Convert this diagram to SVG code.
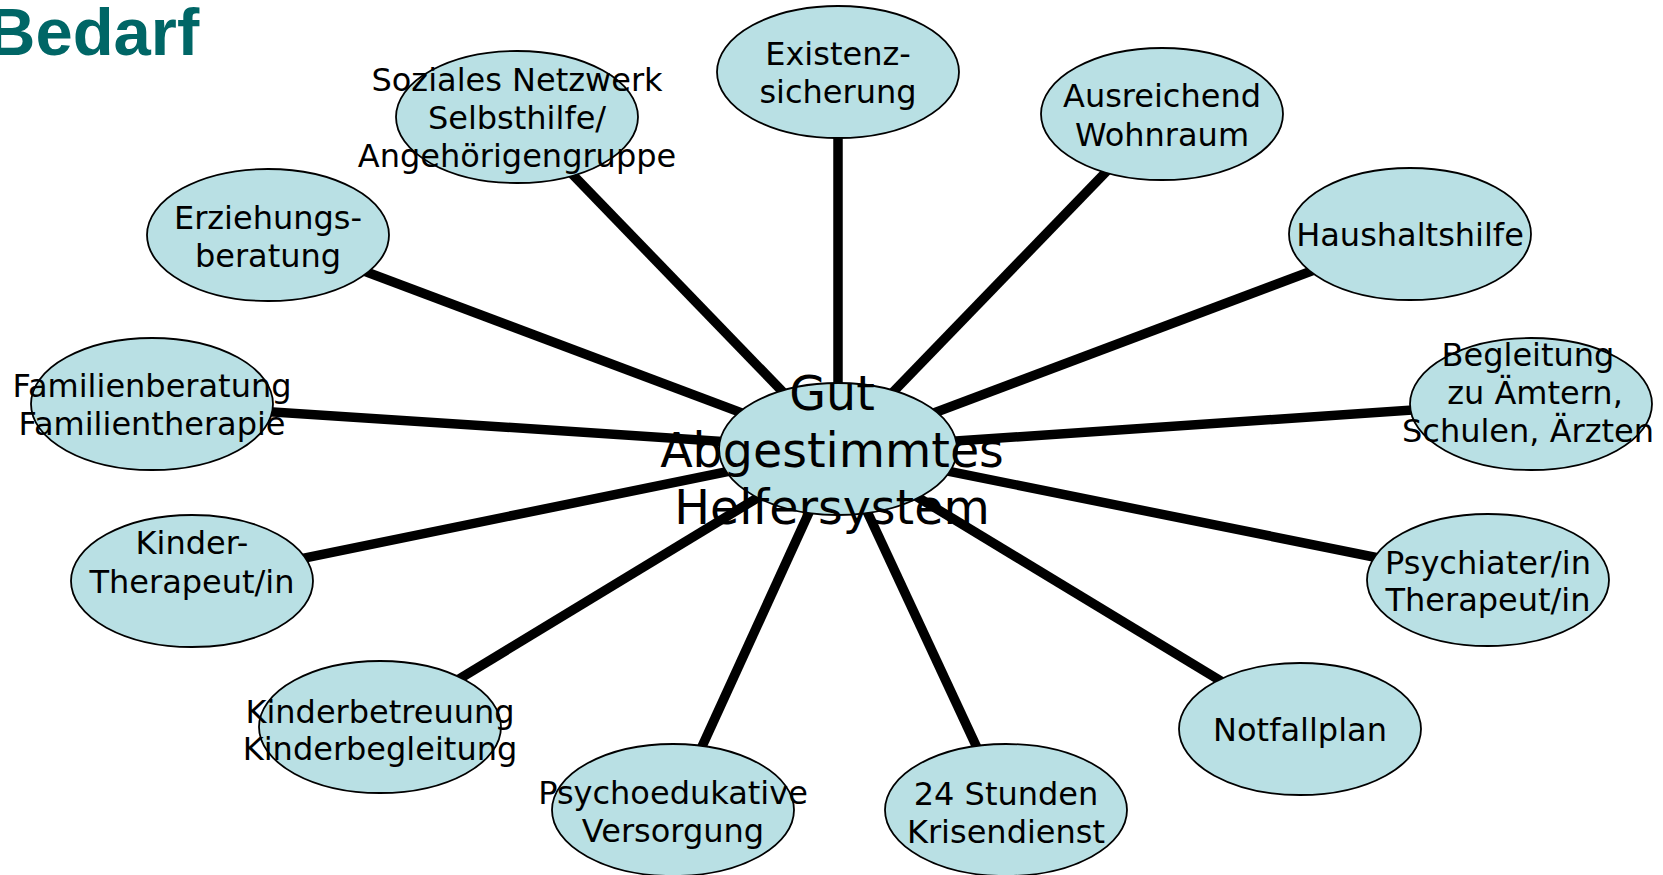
<svg xmlns="http://www.w3.org/2000/svg" width="1663" height="875" viewBox="0 0 1663 875">
<style>
.n ellipse{fill:#b9e0e4;stroke:#000;stroke-width:1.8}
.n text{font-family:"DejaVu Sans",Verdana,sans-serif;font-size:32px;fill:#000;text-anchor:middle}
#center text{font-size:47.5px}
#connectors line{stroke:#000;stroke-width:9.5}
</style>
<rect width="1663" height="875" fill="#fff"/>
<text x="-13" y="55" font-family="Liberation Sans, Arial, sans-serif" font-weight="bold" font-size="67" fill="#006666">Bedarf</text>
<g id="connectors">
<line x1="838" y1="449" x2="838" y2="72"/>
<line x1="838" y1="449" x2="517" y2="117"/>
<line x1="838" y1="449" x2="1162" y2="114"/>
<line x1="838" y1="449" x2="268" y2="235"/>
<line x1="838" y1="449" x2="1410" y2="234"/>
<line x1="838" y1="449" x2="152" y2="404"/>
<line x1="838" y1="449" x2="1531" y2="402"/>
<line x1="838" y1="449" x2="192" y2="581"/>
<line x1="838" y1="449" x2="1488" y2="580"/>
<line x1="838" y1="449" x2="380" y2="727"/>
<line x1="838" y1="449" x2="1300" y2="729"/>
<line x1="838" y1="449" x2="673" y2="810"/>
<line x1="838" y1="449" x2="1006" y2="810"/>
</g>
<g id="existenz" class="n"><ellipse cx="838" cy="72" rx="121" ry="66"/><text x="838" y="65">Existenz-</text><text x="838" y="103">sicherung</text></g>
<g id="soziales" class="n"><ellipse cx="517" cy="117" rx="121" ry="66"/><text x="517" y="91">Soziales Netzwerk</text><text x="517" y="129">Selbsthilfe/</text><text x="517" y="167">Angehörigengruppe</text></g>
<g id="wohnraum" class="n"><ellipse cx="1162" cy="114" rx="121" ry="66"/><text x="1162" y="107">Ausreichend</text><text x="1162" y="146">Wohnraum</text></g>
<g id="erziehung" class="n"><ellipse cx="268" cy="235" rx="121" ry="66"/><text x="268" y="229">Erziehungs-</text><text x="268" y="267">beratung</text></g>
<g id="haushalt" class="n"><ellipse cx="1410" cy="234" rx="121" ry="66"/><text x="1410" y="246">Haushaltshilfe</text></g>
<g id="familie" class="n"><ellipse cx="152" cy="404" rx="121" ry="66"/><text x="152" y="397">Familienberatung</text><text x="152" y="435">Familientherapie</text></g>
<g id="begleitung" class="n"><ellipse cx="1531" cy="404" rx="121" ry="66"/><text x="1528" y="366">Begleitung</text><text x="1535" y="404">zu Ämtern,</text><text x="1528" y="442">Schulen, Ärzten</text></g>
<g id="kindertherapeut" class="n"><ellipse cx="192" cy="581" rx="121" ry="66"/><text x="192" y="554">Kinder-</text><text x="192" y="593">Therapeut/in</text></g>
<g id="psychiater" class="n"><ellipse cx="1488" cy="580" rx="121" ry="66"/><text x="1488" y="574">Psychiater/in</text><text x="1488" y="611">Therapeut/in</text></g>
<g id="kinderbetreuung" class="n"><ellipse cx="380" cy="727" rx="121" ry="66"/><text x="380" y="723">Kinderbetreuung</text><text x="380" y="760">Kinderbegleitung</text></g>
<g id="notfallplan" class="n"><ellipse cx="1300" cy="729" rx="121" ry="66"/><text x="1300" y="741">Notfallplan</text></g>
<g id="psychoedukative" class="n"><ellipse cx="673" cy="810" rx="121" ry="66"/><text x="673" y="804">Psychoedukative</text><text x="673" y="842">Versorgung</text></g>
<g id="krisendienst" class="n"><ellipse cx="1006" cy="810" rx="121" ry="66"/><text x="1006" y="805">24 Stunden</text><text x="1006" y="843">Krisendienst</text></g>
<g id="center" class="n"><ellipse cx="838" cy="449" rx="119" ry="66"/><text x="832" y="410">Gut</text><text x="832" y="467">Abgestimmtes</text><text x="832" y="524">Helfersystem</text></g>
</svg>
